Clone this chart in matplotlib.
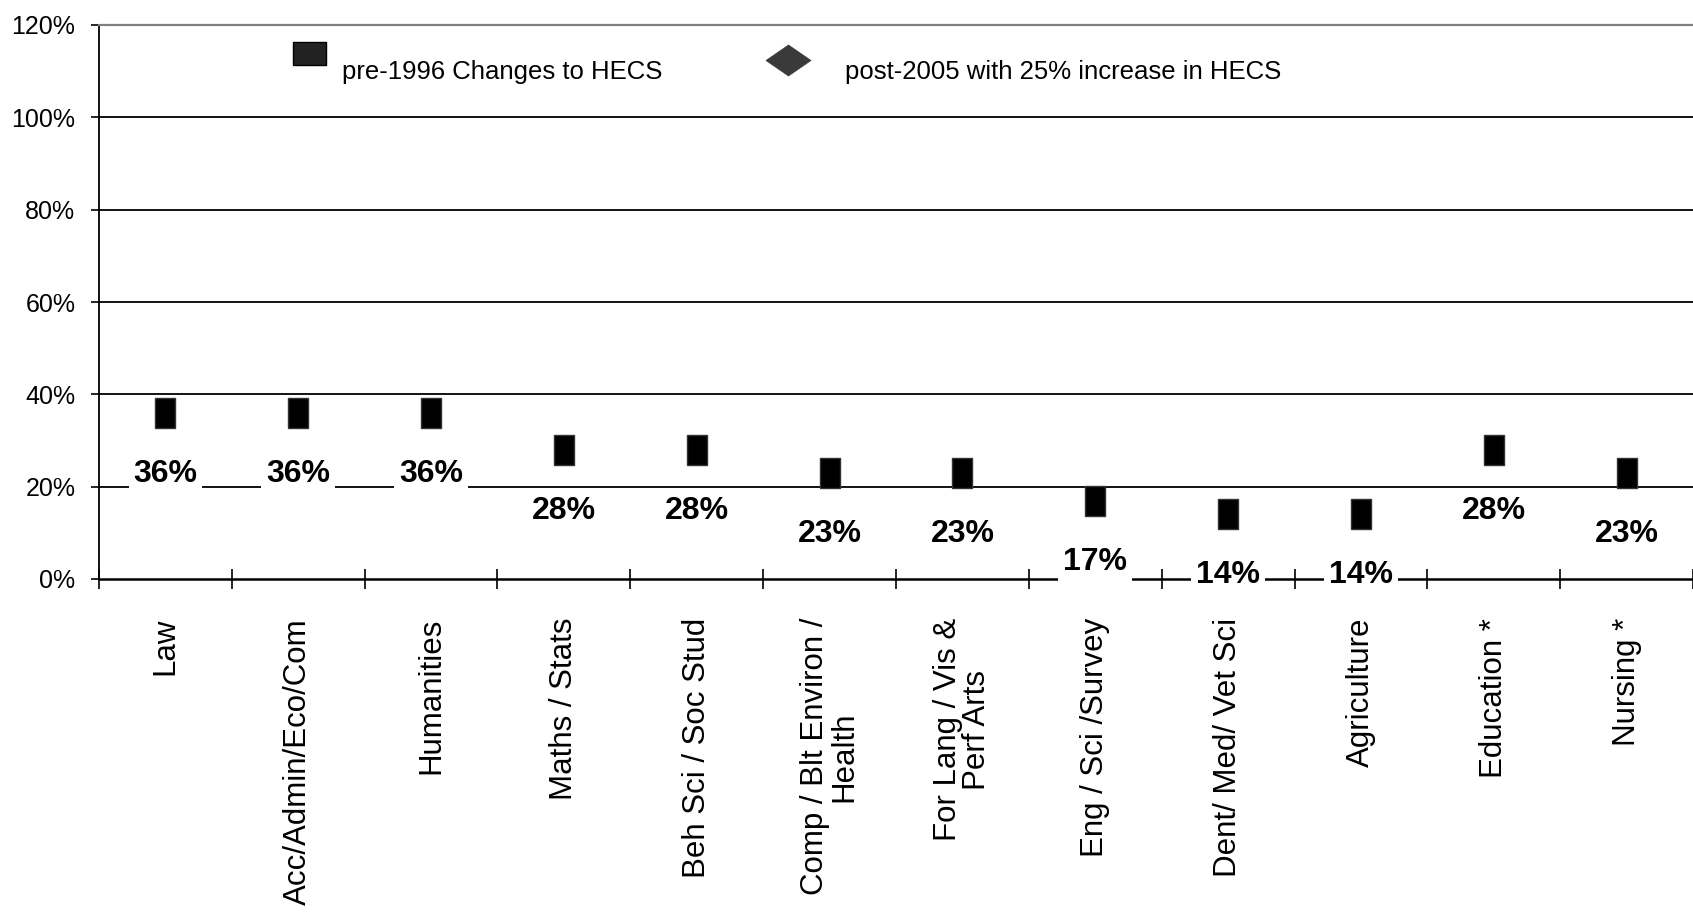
import numpy as np
import matplotlib
matplotlib.use("Agg")
import matplotlib.pyplot as plt
from matplotlib.lines import Line2D
from matplotlib.legend_handler import HandlerLine2D
from matplotlib.ticker import PercentFormatter, FixedLocator

# ---- data ----
categories = ["Law", "Acc/Admin/Eco/Com", "Humanities", "Maths / Stats",
              "Beh Sci / Soc Stud", "Comp / Blt Environ /\nHealth",
              "For Lang / Vis &\nPerf Arts", "Eng / Sci /Survey",
              "Dent/ Med/ Vet Sci", "Agriculture", "Education *", "Nursing *"]
pre_1996 = [36, 36, 36, 28, 28, 23, 23, 17, 14, 14, 28, 23]
series_names = ["pre-1996 Changes to HECS", "post-2005 with 25% increase in HECS"]
y_ticks = [0, 20, 40, 60, 80, 100, 120]

NARROW = ["Liberation Sans Narrow", "Liberation Sans", "DejaVu Sans"]
REG = ["Liberation Sans", "DejaVu Sans"]

fig = plt.figure(figsize=(16.93, 9.19), dpi=100)
ax = fig.add_axes([99 / 1693, 1 - 579 / 919, 1 - 99 / 1693, (579 - 25) / 919])

x = np.arange(len(categories))
vals = np.array(pre_1996) / 100.0

# custom rectangle marker (taller than wide)
rw, rh = 20, 29
rect = [(-0.5 * rw / rh, -0.5), (0.5 * rw / rh, -0.5), (0.5 * rw / rh, 0.5),
        (-0.5 * rw / rh, 0.5), (-0.5 * rw / rh, -0.5)]
ax.plot(x, vals, linestyle="none", marker=rect, markersize=rh * 0.72 + 0.5,
        markerfacecolor="black", markeredgecolor="#333333", markeredgewidth=1.0,
        zorder=4, clip_on=False)

for xi, v, p in zip(x, vals, pre_1996):
    ax.annotate(f"{p}%", (xi, v), xytext=(0, -44), textcoords="offset points",
                ha="center", va="center", fontsize=23, fontweight="bold",
                family=NARROW,
                bbox=dict(boxstyle="square,pad=0.15", fc="white", ec="none"),
                zorder=6, annotation_clip=False)

ax.set_xlim(-0.5, len(categories) - 0.5)
ax.set_ylim(0, 1.2)

# y axis
ax.yaxis.set_major_locator(FixedLocator([t / 100 for t in y_ticks]))
ax.yaxis.set_major_formatter(PercentFormatter(1.0, decimals=0))
ax.tick_params(axis="y", direction="out", length=6, width=1.2, pad=11,
               labelsize=18)
for lab in ax.get_yticklabels():
    lab.set_family(NARROW)
for t in y_ticks[1:-1]:
    ax.axhline(t / 100, color="black", lw=1.3, zorder=1)

# x axis: ticks at boundaries, labels at centers
ax.set_xticks(np.arange(-0.5, len(categories), 1.0))
ax.set_xticklabels([])
ax.tick_params(axis="x", which="major", direction="inout", length=14, width=1.2)
ax.set_xticks(x, minor=True)
ax.set_xticklabels(categories, minor=True, rotation=90, va="top", ha="center",
                   multialignment="center", fontsize=22.5, family=REG,
                   linespacing=0.95)
ax.tick_params(axis="x", which="minor", length=0, pad=28)

ax.spines["right"].set_visible(False)
ax.spines["top"].set_color("#808080")
ax.spines["top"].set_linewidth(1.6)
ax.spines["left"].set_linewidth(1.3)
ax.spines["bottom"].set_linewidth(1.8)
ax.set_facecolor("white")


# ---- legend (two separate boxes) ----
class UpHandler(HandlerLine2D):
    def __init__(self, dy, **kw):
        super().__init__(**kw)
        self.dy = dy

    def create_artists(self, legend, orig_handle, xdescent, ydescent, width,
                       height, fontsize, trans):
        arts = super().create_artists(legend, orig_handle, xdescent, ydescent,
                                      width, height, fontsize, trans)
        for a in arts:
            a.set_ydata(np.asarray(a.get_ydata(), dtype=float) + self.dy)
        return arts


sw, sh = 33, 23
sq = [(-0.5, -0.5 * sh / sw), (0.5, -0.5 * sh / sw), (0.5, 0.5 * sh / sw),
      (-0.5, 0.5 * sh / sw), (-0.5, -0.5 * sh / sw)]
dw, dh = 45, 31
dia = [(-0.5, 0), (0, 0.5 * dh / dw), (0.5, 0), (0, -0.5 * dh / dw), (-0.5, 0)]

h1 = Line2D([], [], linestyle="none", marker=sq, markersize=sw * 0.72,
            markerfacecolor="#222222", markeredgecolor="black", markeredgewidth=1)
h2 = Line2D([], [], linestyle="none", marker=dia, markersize=dw * 0.72,
            markerfacecolor="#3a3a3a", markeredgecolor="#3a3a3a", markeredgewidth=0.5)

W, H = 1693.0, 919.0
LFS = 18.5
leg1 = fig.legend([h1], [series_names[0]], loc="upper left",
                  bbox_to_anchor=(295 / W, 1 - 60 / H), frameon=False,
                  prop=dict(family=NARROW, size=LFS), handlelength=1.1,
                  handletextpad=0.73, borderpad=0, borderaxespad=0,
                  handler_map={h1: UpHandler(12.5)})
leg2 = fig.legend([h2], [series_names[1]], loc="upper left",
                  bbox_to_anchor=(769 / W, 1 - 60 / H), frameon=False,
                  prop=dict(family=NARROW, size=LFS), handlelength=1.5,
                  handletextpad=1.46, borderpad=0, borderaxespad=0,
                  handler_map={h2: UpHandler(7.5)})

fig.savefig("out.png", dpi=100, facecolor="white")
